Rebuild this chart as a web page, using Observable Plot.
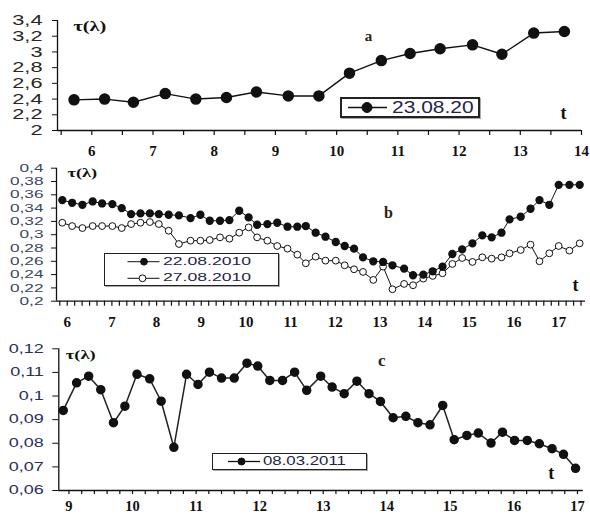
<!DOCTYPE html>
<html><head><meta charset="utf-8">
<script src="https://cdn.jsdelivr.net/npm/d3@7"></script>
<script src="https://cdn.jsdelivr.net/npm/@observablehq/plot@0.6"></script>
<style>
body{margin:0;background:#fff;}
#wrap{position:relative;width:590px;height:516px;overflow:hidden;background:#fff;}
.panel{position:absolute;left:0;}
.legend{position:absolute;box-sizing:border-box;border:1.5px solid #222;background:#fff;box-shadow:1px 1px 0 #aaa;font-family:"Liberation Sans",Arial,sans-serif;color:#23234a;}
.legend svg{position:absolute;left:0;top:0;overflow:visible;}
.legend span{position:absolute;white-space:nowrap;transform-origin:left center;line-height:1;}
</style></head><body><div id="wrap"></div>
<script>
// ---------- data ----------
const aTime = [5.71, 6.21, 6.68, 7.2, 7.7, 8.2, 8.69, 9.21, 9.71, 10.21, 10.73, 11.2, 11.69, 12.22, 12.7, 13.22, 13.72];
const aTau  = [2.39, 2.40, 2.36, 2.47, 2.40, 2.42, 2.49, 2.44, 2.44, 2.73, 2.89, 2.98, 3.04, 3.09, 2.97, 3.24, 3.26];

const bTime = [5.89, 6.11, 6.34, 6.57, 6.78, 7.01, 7.22, 7.43, 7.64, 7.85,
               8.05, 8.27, 8.50, 8.76, 8.98, 9.19, 9.42, 9.63, 9.85, 10.06,
               10.25, 10.48, 10.70, 10.93, 11.15, 11.34, 11.56, 11.78, 12.01, 12.21,
               12.42, 12.62, 12.85, 13.07, 13.28, 13.54, 13.74, 13.97, 14.18, 14.40,
               14.62, 14.84, 15.07, 15.29, 15.50, 15.72, 15.90, 16.15, 16.37, 16.57,
               16.79, 17.00, 17.24, 17.47];
const b2208 = [0.352, 0.348, 0.345, 0.350, 0.347, 0.346, 0.340, 0.331, 0.332, 0.332,
               0.331, 0.330, 0.329, 0.325, 0.330, 0.321, 0.321, 0.322, 0.336, 0.326,
               0.315, 0.316, 0.318, 0.312, 0.312, 0.313, 0.303, 0.297, 0.289, 0.283,
               0.279, 0.266, 0.260, 0.259, 0.254, 0.249, 0.239, 0.240, 0.245, 0.252,
               0.271, 0.278, 0.287, 0.299, 0.296, 0.303, 0.323, 0.327, 0.339, 0.352,
               0.345, 0.375, 0.375, 0.375];
const b2708 = [0.318, 0.313, 0.310, 0.313, 0.313, 0.313, 0.310, 0.316, 0.318, 0.319,
               0.316, 0.306, 0.286, 0.291, 0.291, 0.292, 0.296, 0.294, 0.303, 0.311,
               0.296, 0.291, 0.283, 0.279, 0.270, 0.257, 0.267, 0.261, 0.261, 0.254,
               0.248, 0.244, 0.232, 0.252, 0.218, 0.226, 0.224, 0.234, 0.238, 0.242,
               0.256, 0.265, 0.259, 0.266, 0.264, 0.266, 0.272, 0.277, 0.285, 0.260,
               0.272, 0.283, 0.276, 0.287];

const cTime = [8.91, 9.12, 9.31, 9.50, 9.70, 9.88, 10.07, 10.27, 10.45, 10.65,
               10.85, 11.03, 11.21, 11.40, 11.60, 11.80, 11.97, 12.16, 12.36, 12.55,
               12.74, 12.96, 13.14, 13.33, 13.53, 13.72, 13.90, 14.10, 14.30, 14.49,
               14.68, 14.88, 15.06, 15.26, 15.44, 15.64, 15.82, 16.01, 16.21, 16.40,
               16.60, 16.78, 16.97];
const cTau  = [0.0939, 0.1056, 0.1084, 0.1027, 0.0887, 0.0957, 0.1092, 0.1073, 0.0978, 0.0783,
               0.1092, 0.1049, 0.1101, 0.1076, 0.1076, 0.1139, 0.1127, 0.1066, 0.1066, 0.1101,
               0.1024, 0.1084, 0.1038, 0.1010, 0.1063, 0.1010, 0.0977, 0.0908, 0.0914, 0.0887,
               0.0878, 0.0960, 0.0815, 0.0833, 0.0843, 0.0801, 0.0847, 0.0812, 0.0812, 0.0798,
               0.0777, 0.0753, 0.0694];

// ---------- tick labels ----------
const aXTicks = [6, 7, 8, 9, 10, 11, 12, 13, 14];
const aXLabels = ["6", "7", "8", "9", "10", "11", "12", "13", "14"];
const aYTicks = [2, 2.2, 2.4, 2.6, 2.8, 3, 3.2, 3.4];
const aYLabels = ["2", "2,2", "2,4", "2,6", "2,8", "3", "3,2", "3,4"];

const bXTicks = [6, 7, 8, 9, 10, 11, 12, 13, 14, 15, 16, 17];
const bXLabels = ["6", "7", "8", "9", "10", "11", "12", "13", "14", "15", "16", "17"];
const bYTicks = [0.2, 0.22, 0.24, 0.26, 0.28, 0.3, 0.32, 0.34, 0.36, 0.38, 0.4];
const bYLabels = ["0,2", "0,22", "0,24", "0,26", "0,28", "0,3", "0,32", "0,34", "0,36", "0,38", "0,4"];

const cXTicks = [9, 10, 11, 12, 13, 14, 15, 16, 17];
const cXLabels = ["9", "10", "11", "12", "13", "14", "15", "16", "17"];
const cYTicks = [0.06, 0.07, 0.08, 0.09, 0.1, 0.11, 0.12];
const cYLabels = ["0,06", "0,07", "0,08", "0,09", "0,1", "0,11", "0,12"];

const yTitle = "τ(λ)";
const panelNames = ["a", "b", "c"];
const axisName = "t";
const legendA = ["23.08.20"];
const legendB = ["22.08.2010", "27.08.2010"];
const legendC = ["08.03.2011"];

// ---------- helpers ----------
const fmt = (ticks, labels) => d => {
  const i = ticks.findIndex(t => Math.abs(t - d) < 1e-9);
  return i < 0 ? "" : labels[i];
};
function stretch(nodes, s) {
  nodes.forEach(t => {
    const tr = t.getAttribute("transform");
    if (tr) t.setAttribute("transform", tr + ` scale(${s},1)`);
    else {
      const x = +t.getAttribute("x") || 0, y = +t.getAttribute("y") || 0;
      t.removeAttribute("x"); t.removeAttribute("y");
      t.setAttribute("transform", `translate(${x},${y}) scale(${s},1)`);
    }
  });
}
const wrap = document.getElementById("wrap");
function place(svg, top) {
  const d = document.createElement("div");
  d.className = "panel"; d.style.top = top + "px";
  d.appendChild(svg); wrap.appendChild(d);
}
const SERIF = "Liberation Serif, Times New Roman, serif";
const SANS = "Liberation Sans, Arial, sans-serif";
const ink = "#111";

function finish(svg, yStretch, titleStretch) {
  stretch(svg.querySelectorAll('g[aria-label="y-axis tick label"] text'), yStretch);
  const tt = [...svg.querySelectorAll('g[aria-label="text"] text')].filter(t => t.textContent === yTitle);
  stretch(tt, titleStretch);
}

// ---------- panel a ----------
const aData = aTime.map((t, i) => ({t, v: aTau[i]}));
const aXDomain = [5.44, 14];
const aMinor = d3.range(11, 29).map(k => k / 2);
const plotA = Plot.plot({
  width: 590, height: 160,
  marginLeft: 57, marginRight: 9, marginTop: 20, marginBottom: 30,
  x: {domain: aXDomain, label: null},
  y: {domain: [aYTicks[0], aYTicks[aYTicks.length - 1]], label: null},
  style: {background: "transparent", overflow: "visible", color: ink},
  marks: [
    Plot.ruleY([aYTicks[0]], {stroke: ink, strokeWidth: 1.3}),
    Plot.ruleX([aXDomain[0]], {stroke: ink, strokeWidth: 1.3}),
    Plot.axisX({ticks: aMinor, tickSize: 5, tickFormat: () => "", label: null, stroke: ink, strokeWidth: 1.2}),
    Plot.axisX({ticks: aXTicks, tickSize: 0, tickPadding: 15, tickFormat: fmt(aXTicks, aXLabels), label: null,
      fontSize: 15, fontWeight: "bold", fontFamily: SERIF, fill: "#111"}),
    Plot.axisY({ticks: aYTicks, tickSize: 5, tickPadding: 10, tickFormat: fmt(aYTicks, aYLabels), label: null,
      fontSize: 14.5, fontFamily: SANS, fill: "#2b2620", stroke: ink}),
    Plot.line(aData, {x: "t", y: "v", stroke: ink, strokeWidth: 1.4}),
    Plot.dot(aData, {x: "t", y: "v", r: 5, fill: ink, stroke: ink}),
    Plot.text([yTitle], {frameAnchor: "top-left", textAnchor: "start", lineAnchor: "top", dx: 16, dy: 1,
      fontSize: 14, fontWeight: "bold", fontFamily: SERIF, fill: "#111"}),
    Plot.text([panelNames[0]], {frameAnchor: "top-left", textAnchor: "middle", lineAnchor: "middle", dx: 311, dy: 16,
      fontSize: 15, fontWeight: "bold", fontFamily: SERIF, fill: "#2a2218"}),
    Plot.text([axisName], {frameAnchor: "bottom-right", textAnchor: "middle", lineAnchor: "middle", dx: -18, dy: -17,
      fontSize: 18, fontWeight: "bold", fontFamily: SERIF, fill: "#111"})
  ]
});
finish(plotA, 1.5, 1.45);
place(plotA, 0);

// ---------- panel b ----------
const bData = bTime.map((t, i) => ({t, v1: b2208[i], v2: b2708[i]}));
const bXDomain = [5.76, 17.6];
const bMinor = d3.range(35, 106).map(k => k / 6);
const plotB = Plot.plot({
  width: 590, height: 175,
  marginLeft: 56, marginRight: 5, marginTop: 7.7, marginBottom: 34.3,
  x: {domain: bXDomain, label: null},
  y: {domain: [bYTicks[0], bYTicks[bYTicks.length - 1]], label: null},
  style: {background: "transparent", overflow: "visible", color: ink},
  marks: [
    Plot.ruleY([bYTicks[0]], {stroke: ink, strokeWidth: 1.3}),
    Plot.ruleX([bXDomain[0]], {stroke: ink, strokeWidth: 1.3}),
    Plot.axisX({ticks: bMinor, tickSize: 5, tickFormat: () => "", label: null, stroke: ink, strokeWidth: 1.2}),
    Plot.axisX({ticks: bXTicks, tickSize: 0, tickPadding: 15, tickFormat: fmt(bXTicks, bXLabels), label: null,
      fontSize: 15, fontWeight: "bold", fontFamily: SERIF, fill: "#111"}),
    Plot.axisY({ticks: bYTicks, tickSize: 5, tickPadding: 8, tickFormat: fmt(bYTicks, bYLabels), label: null,
      fontSize: 11.5, fontFamily: SANS, fill: "#3c4660", stroke: ink}),
    Plot.line(bData, {x: "t", y: "v2", stroke: ink, strokeWidth: 1}),
    Plot.line(bData, {x: "t", y: "v1", stroke: ink, strokeWidth: 1}),
    Plot.dot(bData, {x: "t", y: "v2", r: 3.4, fill: "#fff", stroke: ink, strokeWidth: 1}),
    Plot.dot(bData, {x: "t", y: "v1", r: 3.4, fill: ink, stroke: ink}),
    Plot.text([yTitle], {frameAnchor: "top-left", textAnchor: "start", lineAnchor: "top", dx: 11, dy: 1,
      fontSize: 11.5, fontWeight: "bold", fontFamily: SERIF, fill: "#111"}),
    Plot.text([panelNames[1]], {frameAnchor: "top-left", textAnchor: "middle", lineAnchor: "middle", dx: 332, dy: 45,
      fontSize: 16, fontWeight: "bold", fontFamily: SERIF, fill: "#2a2218"}),
    Plot.text([axisName], {frameAnchor: "bottom-right", textAnchor: "middle", lineAnchor: "middle", dx: -10, dy: -16,
      fontSize: 18, fontWeight: "bold", fontFamily: SERIF, fill: "#111"})
  ]
});
finish(plotB, 1.5, 1.6);
place(plotB, 160);

// ---------- panel c ----------
const cData = cTime.map((t, i) => ({t, v: cTau[i]}));
const cXDomain = [8.84, 17.09];
const cMinor = d3.range(45, 86).map(k => k / 5);
const plotC = Plot.plot({
  width: 590, height: 181,
  marginLeft: 58.3, marginRight: 7.3, marginTop: 13.3, marginBottom: 26,
  x: {domain: cXDomain, label: null},
  y: {domain: [cYTicks[0], cYTicks[cYTicks.length - 1]], label: null},
  style: {background: "transparent", overflow: "visible", color: ink},
  marks: [
    Plot.ruleY([cYTicks[0]], {stroke: ink, strokeWidth: 1.3}),
    Plot.ruleX([cXDomain[0]], {stroke: ink, strokeWidth: 1.3}),
    Plot.axisX({ticks: cMinor, tickSize: 4, tickFormat: () => "", label: null, stroke: ink, strokeWidth: 1.2}),
    Plot.axisX({ticks: cXTicks, tickSize: 0, tickPadding: 10.5, tickFormat: fmt(cXTicks, cXLabels), label: null,
      fontSize: 14.5, fontWeight: "bold", fontFamily: SERIF, fill: "#111"}),
    Plot.axisY({ticks: cYTicks, tickSize: 6, tickPadding: 9, tickFormat: fmt(cYTicks, cYLabels), label: null,
      fontSize: 12, fontFamily: SANS, fill: "#2a2f5a", stroke: ink}),
    Plot.line(cData, {x: "t", y: "v", stroke: "#222", strokeWidth: 1.5}),
    Plot.dot(cData, {x: "t", y: "v", r: 4, fill: ink, stroke: ink}),
    Plot.text([yTitle], {frameAnchor: "top-left", textAnchor: "start", lineAnchor: "top", dx: 7, dy: 2,
      fontSize: 11.5, fontWeight: "bold", fontFamily: SERIF, fill: "#111"}),
    Plot.text([panelNames[2]], {frameAnchor: "top-left", textAnchor: "middle", lineAnchor: "middle", dx: 323, dy: 12,
      fontSize: 17, fontWeight: "bold", fontFamily: SERIF, fill: "#2a2218"}),
    Plot.text([axisName], {frameAnchor: "bottom-right", textAnchor: "middle", lineAnchor: "middle", dx: -32, dy: -17,
      fontSize: 18, fontWeight: "bold", fontFamily: SERIF, fill: "#111"})
  ]
});
finish(plotC, 1.5, 1.6);
place(plotC, 335);

// ---------- legends (HTML boxes) ----------
function legend(box, rows) {
  const d = document.createElement("div");
  d.className = "legend";
  Object.assign(d.style, {left: box.left + "px", top: box.top + "px", width: box.width + "px", height: box.height + "px", borderWidth: box.border + "px"});
  const ns = "http://www.w3.org/2000/svg";
  const svg = document.createElementNS(ns, "svg");
  svg.setAttribute("width", box.width); svg.setAttribute("height", box.height);
  d.appendChild(svg);
  rows.forEach(r => {
    const line = document.createElementNS(ns, "line");
    line.setAttribute("x1", r.x0); line.setAttribute("x2", r.x1);
    line.setAttribute("y1", r.cy); line.setAttribute("y2", r.cy);
    line.setAttribute("stroke", ink); line.setAttribute("stroke-width", r.lw);
    svg.appendChild(line);
    const c = document.createElementNS(ns, "circle");
    c.setAttribute("cx", r.mx); c.setAttribute("cy", r.cy); c.setAttribute("r", r.r);
    c.setAttribute("fill", r.filled ? ink : "#fff"); c.setAttribute("stroke", ink);
    svg.appendChild(c);
    const s = document.createElement("span");
    s.textContent = r.label;
    Object.assign(s.style, {left: r.tx + "px", top: (r.cy - r.fs / 2) + "px", fontSize: r.fs + "px", transform: `scaleX(${r.sx})`});
    d.appendChild(s);
  });
  wrap.appendChild(d);
}
legend({left: 340, top: 97, width: 140, height: 21, border: 2},
  [{label: legendA[0], cy: 8.5, x0: 6, x1: 45, mx: 25, r: 5, filled: true, lw: 1.6, tx: 50, fs: 16.5, sx: 1.27}]);
legend({left: 104, top: 252.5, width: 175, height: 33, border: 1.5},
  [{label: legendB[0], cy: 7.7, x0: 22.5, x1: 54.5, mx: 39, r: 3.4, filled: true, lw: 1, tx: 57.5, fs: 11, sx: 1.6},
   {label: legendB[1], cy: 24.3, x0: 22.5, x1: 54.5, mx: 37.5, r: 3.4, filled: false, lw: 1, tx: 57.5, fs: 11, sx: 1.6}]);
legend({left: 211.7, top: 452.7, width: 155, height: 17, border: 1.5},
  [{label: legendC[0], cy: 7.5, x0: 15, x1: 47, mx: 28.5, r: 3.5, filled: true, lw: 1.3, tx: 50, fs: 12, sx: 1.4}]);
</script></body></html>
